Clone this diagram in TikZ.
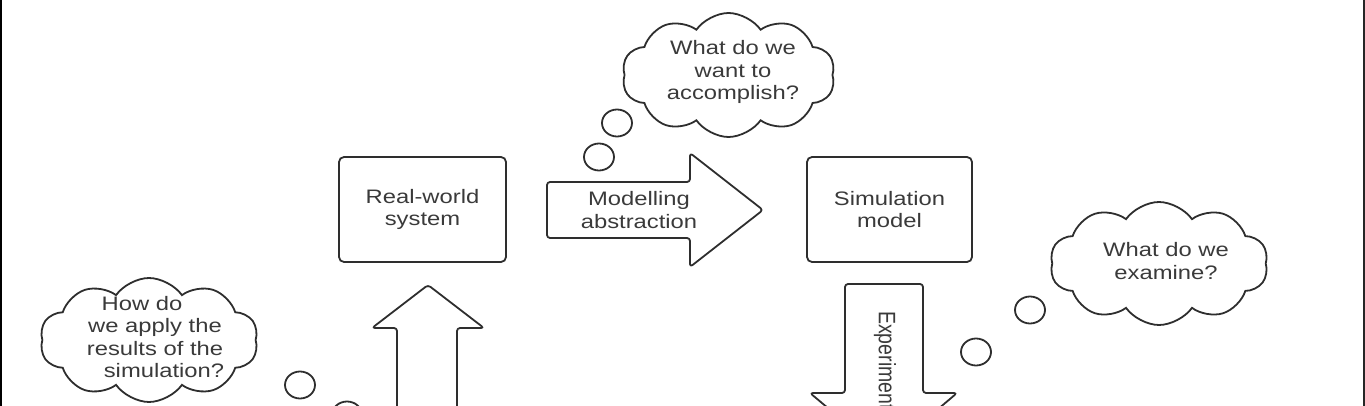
\documentclass[tikz,border=0pt]{standalone}
\usepackage{fontspec}
\setmainfont{Liberation Sans}[FakeStretch=1.22]
\newfontfamily\plainsans{Liberation Sans}
\usetikzlibrary{shapes.symbols}
\definecolor{ink}{HTML}{2E2E2E}
\definecolor{txt}{HTML}{3A3A3A}
\begin{document}
\begin{tikzpicture}[x=1pt,y=1pt,
  every node/.style={font=\fontsize{19.5}{22.5}\selectfont, text=txt},
  sysbox/.style={draw=ink, line width=1.8pt, rounded corners=5pt, inner sep=0pt, align=center},
  thought/.style={cloud, draw=ink, line width=1.8pt, cloud puffs=10, cloud puff arc=110, cloud ignores aspect, inner sep=0pt},
  bubble/.style={draw=ink, line width=1.8pt},
  blockarrow/.style={draw=ink, line width=1.8pt, rounded corners=3pt, line join=round},
  label/.style={align=center, inner sep=0pt}]
\useasboundingbox (0,0) rectangle (1365,-406);
\clip (0,0) rectangle (1365,-406);
% frame edges
\fill[black] (0,0) rectangle (2,-406);
\fill[black!85] (1363,0) rectangle (1365,-406);
% boxes
\node[sysbox, minimum width=167, minimum height=105] (real) at (422.5,-209.5) {Real-world\\system};
\node[sysbox, minimum width=165, minimum height=105] (sim) at (889.5,-209.5) {Simulation\\model};
% modelling abstraction arrow
\draw[blockarrow] (547,-182) -- (690,-182) -- (690,-153) -- (763,-210) -- (690,-267) -- (690,-238) -- (547,-238) -- cycle;
\node[label] (modl) at (639,-210) {Modelling\\abstraction};
% experimentation arrow
\draw[blockarrow] (845,-284) -- (923,-284) -- (923,-393) -- (957,-393) -- (884,-455) -- (810,-393) -- (845,-393) -- cycle;
\node[rotate=-90, anchor=west, inner sep=0pt, font=\plainsans\fontsize{19.5}{22.5}\selectfont] (expt) at (885,-311) {\scalebox{1}[1.22]{Experiment}};
% up arrow
\draw[blockarrow] (397,-430) -- (397,-328) -- (372,-328) -- (428,-285) -- (484,-328) -- (457,-328) -- (457,-430);
% clouds
\node[thought, minimum width=213, minimum height=124] (cloudT) at (728.5,-75) {};
\node[label] (qT) at (733,-72) {What do we\\want to\\accomplish?};
\draw[bubble] (617,-123) ellipse [x radius=15, y radius=13.5];
\draw[bubble] (599,-157) ellipse [x radius=15, y radius=13.5];
\node[thought, minimum width=218, minimum height=123] (cloudR) at (1159,-263.5) {};
\node[label] (qR) at (1166,-261) {What do we\\examine?};
\draw[bubble] (1030,-310) ellipse [x radius=15, y radius=13.5];
\draw[bubble] (976,-352) ellipse [x radius=15, y radius=13.5];
\node[thought, minimum width=218, minimum height=124] (cloudL) at (149,-340) {};
\node[label] (qL) at (155,-337) {How do\hspace*{26pt}\\we apply the\\results of the\\\hspace*{18pt}simulation?};
\draw[bubble] (300,-385) ellipse [x radius=15, y radius=13.5];
\draw[bubble] (347,-415) ellipse [x radius=15, y radius=13.5];
\end{tikzpicture}
\end{document}
